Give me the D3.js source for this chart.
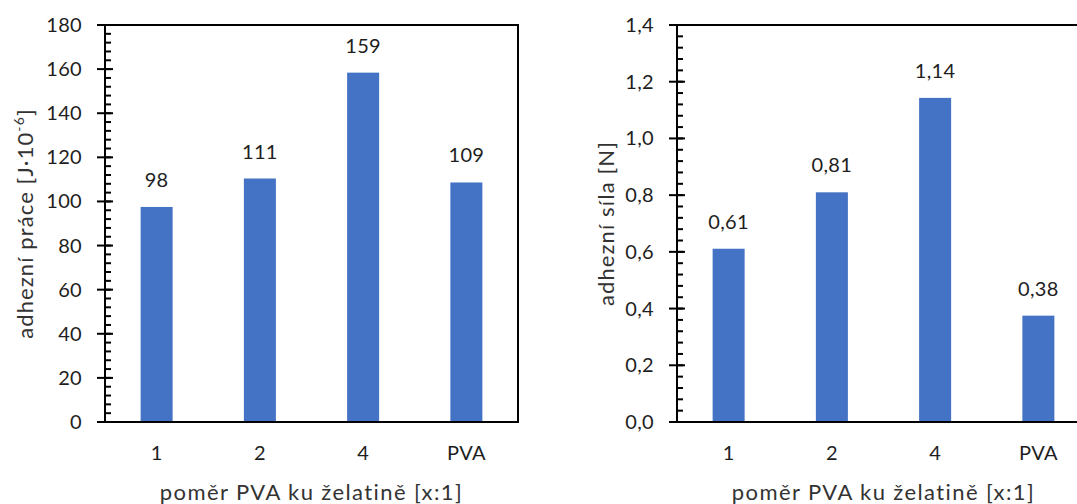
<!DOCTYPE html>
<html>
<head>
<meta charset="utf-8">
<script src="https://cdn.jsdelivr.net/npm/d3@7"></script>
<style>
  html, body { margin: 0; padding: 0; background: #fff; }
  svg { display: block; font-family: Lato, "Open Sans", sans-serif; }
</style>
</head>
<body>
<svg id="chart" width="1077" height="504"></svg>
<script>
// ---- data ----
const categories = ["1", "2", "4", "PVA"];
const workValues = [97.5, 110.4, 158.4, 108.6];
const workLabels = ["98", "111", "159", "109"];
const forceValues = [0.611, 0.81, 1.143, 0.375];
const forceLabels = ["0,61", "0,81", "1,14", "0,38"];
const workTicks = [0, 20, 40, 60, 80, 100, 120, 140, 160, 180];
const forceTicks = [0, 0.2, 0.4, 0.6, 0.8, 1.0, 1.2, 1.4];
const xTitle = "poměr PVA ku želatině [x:1]";

const svg = d3.select("#chart");
const BAR = "#4472C4";
const INK = "#1e1e1e";
const TITLE = "#333333";

function panel(opts) {
  const { left, right, top, bottom, values, labels, ticks, max, minorStep, fmt, yTitle, yTitleSup, titleX } = opts;
  const g = svg.append("g");
  const x = d3.scaleBand().domain(categories).range([left, right]).paddingInner(0.69).paddingOuter(0.345);
  const y = d3.scaleLinear().domain([0, max]).range([bottom, top]);

  // minor ticks
  const minor = d3.range(0, max + 1e-9, minorStep);
  g.append("g").selectAll("line").data(minor).join("line")
    .attr("x1", left).attr("x2", left + 6)
    .attr("y1", d => y(d)).attr("y2", d => y(d))
    .attr("stroke", "#000").attr("stroke-width", 2);

  // major ticks (crossing)
  g.append("g").selectAll("line").data(ticks).join("line")
    .attr("x1", left - 8).attr("x2", left + 8)
    .attr("y1", d => y(d)).attr("y2", d => y(d))
    .attr("stroke", "#000").attr("stroke-width", 2);

  // tick labels
  g.append("g").selectAll("text").data(ticks).join("text")
    .attr("x", left - 23).attr("y", d => y(d))
    .attr("dy", "0.35em").attr("text-anchor", "end")
    .attr("font-size", 20).attr("letter-spacing", 0.3).attr("fill", INK)
    .text(d => fmt(d));

  // bars
  g.append("g").selectAll("rect").data(values).join("rect")
    .attr("x", (d, i) => x(categories[i]))
    .attr("width", x.bandwidth())
    .attr("y", d => y(d))
    .attr("height", d => y(0) - y(d))
    .attr("fill", BAR);

  // value labels
  g.append("g").selectAll("text").data(values).join("text")
    .attr("x", (d, i) => x(categories[i]) + x.bandwidth() / 2)
    .attr("y", d => y(d) - 20)
    .attr("text-anchor", "middle").attr("font-size", 20).attr("letter-spacing", 0.3).attr("fill", INK)
    .text((d, i) => labels[i]);

  // box: y axis, top, right, bottom
  g.append("line").attr("x1", left).attr("x2", left).attr("y1", top).attr("y2", bottom)
    .attr("stroke", "#000").attr("stroke-width", 2);
  g.append("line").attr("x1", left - 8).attr("x2", right + 1).attr("y1", top).attr("y2", top)
    .attr("stroke", "#000").attr("stroke-width", 2);
  g.append("line").attr("x1", left - 8).attr("x2", right + 1).attr("y1", bottom).attr("y2", bottom)
    .attr("stroke", "#000").attr("stroke-width", 2);
  g.append("line").attr("x1", right).attr("x2", right).attr("y1", top).attr("y2", bottom)
    .attr("stroke", "#000").attr("stroke-width", 2);

  // category labels
  g.append("g").selectAll("text").data(categories).join("text")
    .attr("x", d => x(d) + x.bandwidth() / 2).attr("y", 460)
    .attr("text-anchor", "middle").attr("font-size", 20).attr("letter-spacing", 0.3).attr("fill", INK)
    .text(d => d);

  // x title
  g.append("text").attr("x", (left + right) / 2).attr("y", 500)
    .attr("text-anchor", "middle").attr("font-size", 22).attr("letter-spacing", 1.4).attr("fill", TITLE)
    .text(xTitle);

  // y title
  const t = g.append("text")
    .attr("transform", `translate(${titleX},${(top + bottom) / 2}) rotate(-90)`)
    .attr("text-anchor", "middle").attr("font-size", 22).attr("letter-spacing", 1.1).attr("fill", TITLE);
  t.append("tspan").text(yTitle);
  if (yTitleSup) {
    t.append("tspan").attr("dy", -9).attr("font-size", 14).text(yTitleSup);
    t.append("tspan").attr("dy", 9).text("]");
  }
}

panel({
  left: 105, right: 518, top: 25, bottom: 422,
  values: workValues, labels: workLabels, ticks: workTicks, max: 180, minorStep: 4,
  fmt: d => String(d), yTitle: "adhezní práce [J·10", yTitleSup: "-6", titleX: 33
});
panel({
  left: 677, right: 1090, top: 25, bottom: 422,
  values: forceValues, labels: forceLabels, ticks: forceTicks, max: 1.4, minorStep: 0.04,
  fmt: d => d.toFixed(1).replace(".", ","), yTitle: "adhezní síla [N]", yTitleSup: null, titleX: 614
});
</script>
</body>
</html>
